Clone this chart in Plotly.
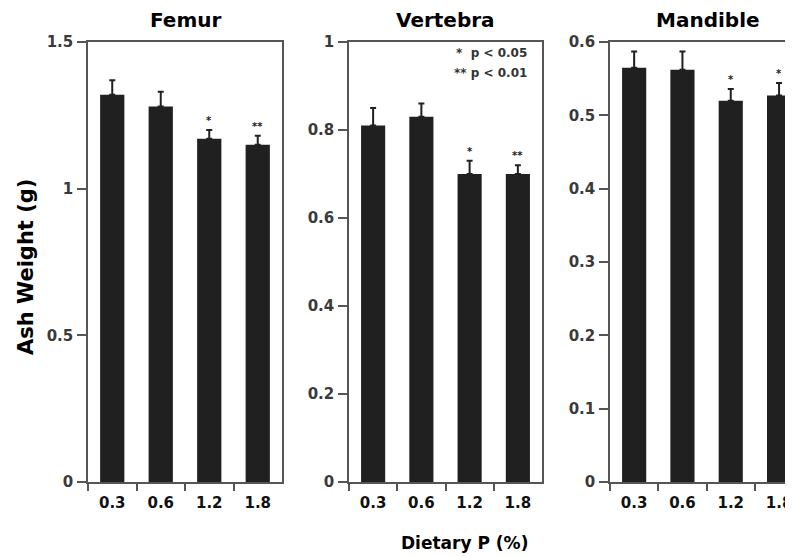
import plotly.graph_objects as go

W, H = 793, 557
O = 8  # page offset of the figure inside the browser body

doses = ["0.3", "0.6", "1.2", "1.8"]

femur_mean = [1.32, 1.28, 1.17, 1.15]
femur_err = [0.05, 0.05, 0.03, 0.03]
femur_sig = ["", "", "*", "**"]

vert_mean = [0.81, 0.83, 0.70, 0.70]
vert_err = [0.04, 0.03, 0.03, 0.02]
vert_sig = ["", "", "*", "**"]

mand_mean = [0.565, 0.562, 0.520, 0.527]
mand_err = [0.022, 0.025, 0.016, 0.017]
mand_sig = ["", "", "*", "*"]

titles = ["Femur", "Vertebra", "Mandible"]
y_ranges = [[0, 1.5], [0, 1.0], [0, 0.6]]
y_dticks = [0.5, 0.2, 0.1]

def px(x):
    return (x - O) / W

def py(y):
    return 1 - (y - O) / H

x_domains = [[px(88), px(282)], [px(349), px(542)], [px(610), 1.0]]
# mandible panel is cut by the right edge of the picture
mand_span = (W + O - 610) / 48.3
x_ranges = [[-0.5, 3.5], [-0.5, 3.5], [-0.5, -0.5 + mand_span]]
y_domain = [py(482), py(42)]

BAR = "#202020"
AXC = "#555555"

fig = go.Figure()
panels = [(femur_mean, femur_err, femur_sig), (vert_mean, vert_err, vert_sig), (mand_mean, mand_err, mand_sig)]

annotations = []
for i, (mean, err, sig) in enumerate(panels):
    n = "" if i == 0 else str(i + 1)
    fig.add_trace(go.Bar(
        x=doses, y=mean, width=0.5,
        marker=dict(color=BAR, line=dict(width=0)),
        error_y=dict(type="data", symmetric=False, array=err, arrayminus=[0] * len(err),
                     color=BAR, thickness=2, width=3),
        xaxis="x" + n, yaxis="y" + n, showlegend=False,
    ))
    fig.layout["xaxis" + n] = dict(
        domain=x_domains[i], range=x_ranges[i], type="category", anchor="y" + n,
        showline=True, linecolor=AXC, linewidth=1.5, mirror=True,
        ticks="outside", tickson="boundaries", ticklen=7, tickcolor=AXC, tickwidth=1.5,
        tickfont=dict(family="DejaVu Sans", size=15, color="#111111", weight="bold"),
        ticklabelstandoff=6, ticklabeloverflow="allow", automargin=False,
        showgrid=False, zeroline=False, fixedrange=True,
    )
    fig.layout["yaxis" + n] = dict(
        domain=y_domain, range=y_ranges[i], anchor="x" + n, dtick=y_dticks[i], tick0=0,
        showline=True, linecolor=AXC, linewidth=1.5, mirror=(i < 2),
        ticks="outside", ticklen=9, tickcolor=AXC, tickwidth=1.5,
        tickfont=dict(family="DejaVu Sans", size=15, color="#3a3a3a", weight="bold"),
        ticklabelstandoff=1, automargin=False,
        showgrid=False, zeroline=False, fixedrange=True,
    )
    d = x_domains[i]
    cx = (d[0] + d[1]) / 2 if i < 2 else px(708)
    annotations.append(dict(
        text="<b>%s</b>" % titles[i], x=cx, y=py(20), xref="paper", yref="paper",
        showarrow=False, font=dict(family="DejaVu Sans", size=20, color="#000000"),
        xanchor="center", yanchor="middle",
    ))
    for k, (m, e, s) in enumerate(zip(mean, err, sig)):
        if s:
            annotations.append(dict(
                text="<b>%s</b>" % s, x=k, y=m + e, xref="x" + n, yref="y" + n,
                showarrow=False, font=dict(family="DejaVu Sans", size=10, color="#222222"),
                xanchor="center", yanchor="bottom", yshift=2,
            ))

annotations.append(dict(
    text="<b>Ash Weight (g)</b>", x=px(26), y=py(267), xref="paper", yref="paper",
    showarrow=False, textangle=-90, font=dict(family="DejaVu Sans", size=21, color="#000000"),
    xanchor="center", yanchor="middle",
))
annotations.append(dict(
    text="<b>Dietary P (%)</b>", x=px(464), y=py(543), xref="paper", yref="paper",
    showarrow=False, font=dict(family="DejaVu Sans", size=17, color="#000000"),
    xanchor="center", yanchor="middle",
))
annotations.append(dict(
    text="<b>*  p &lt; 0.05</b>", x=px(529), y=py(53), xref="paper", yref="paper",
    showarrow=False, font=dict(family="DejaVu Sans", size=12, color="#333333"),
    xanchor="right", yanchor="middle",
))
annotations.append(dict(
    text="<b>** p &lt; 0.01</b>", x=px(529), y=py(73), xref="paper", yref="paper",
    showarrow=False, font=dict(family="DejaVu Sans", size=12, color="#333333"),
    xanchor="right", yanchor="middle",
))

fig.update_layout(
    width=W, height=H, autosize=False,
    margin=dict(l=0, r=0, t=0, b=0, pad=0, autoexpand=False),
    paper_bgcolor="#ffffff", plot_bgcolor="#ffffff",
    annotations=annotations, bargap=0.5,
)

fig.write_html("out.html")
